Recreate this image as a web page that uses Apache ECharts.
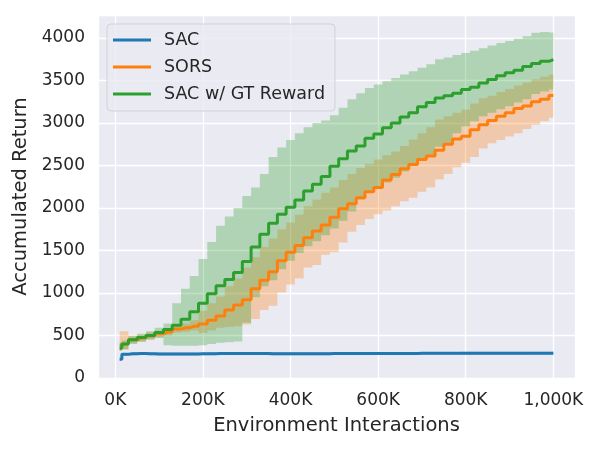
<!DOCTYPE html>
<html>
<head>
<meta charset="utf-8">
<script src="https://cdn.jsdelivr.net/npm/echarts@6/dist/echarts.min.js"></script>
<style>
html,body{margin:0;padding:0;background:#fff;}
#chart{width:600px;height:450px;}
</style>
</head>
<body>
<div id="chart"></div>
<script>
// Environment interactions (thousands)
const xK = [10,20,40,60,80,100,120,140,160,180,200,220,240,260,280,300,320,340,360,380,400,420,440,460,480,500,520,540,560,580,600,620,640,660,680,700,720,740,760,780,800,820,840,860,880,900,920,940,960,980,1000];

const sacMean = [222,278,285,288,284,283,283,282,282,283,284,285,287,288,289,289,288,287,286,286,285,285,286,286,286,287,287,287,288,288,288,288,289,289,289,290,290,290,290,290,291,291,291,291,291,291,291,292,292,292,292];
const sacLow  = [205,262,268,271,267,266,266,265,265,266,267,268,270,271,272,272,271,270,269,269,268,268,269,269,269,270,270,270,271,271,271,271,272,272,272,273,273,273,273,273,274,274,274,274,274,274,274,275,275,275,275];
const sacHigh = [240,295,302,305,301,300,300,299,299,300,301,302,304,305,306,306,305,304,303,303,302,302,303,303,303,304,304,304,305,305,305,305,306,306,306,307,307,307,307,307,308,308,308,308,308,308,308,309,309,309,309];

const sorsMean = [380,400,450,470,495,520,540,575,590,610,634,680,730,800,860,920,1050,1150,1250,1380,1480,1560,1650,1730,1800,1890,1990,2050,2120,2190,2240,2330,2395,2460,2512,2570,2610,2680,2750,2810,2845,2920,2980,3030,3080,3120,3170,3200,3250,3280,3322];
const sorsLow  = [320,330,410,430,455,480,500,535,545,560,530,560,590,600,610,630,693,800,850,1006,1100,1170,1300,1330,1450,1480,1593,1720,1800,1870,1925,1970,2020,2080,2121,2190,2240,2336,2400,2480,2532,2600,2700,2760,2800,2840,2880,2930,2980,3020,3061];
const sorsHigh = [550,550,500,510,535,560,580,615,640,680,790,880,960,1080,1170,1300,1420,1540,1640,1750,1830,1920,2020,2100,2180,2240,2330,2400,2470,2520,2571,2620,2665,2730,2806,2880,2950,3040,3080,3120,3158,3230,3290,3320,3365,3400,3440,3475,3515,3545,3569];

const gtMean = [350,400,450,475,500,535,570,620,690,780,880,990,1085,1160,1240,1370,1540,1690,1820,1925,2010,2095,2200,2280,2370,2490,2580,2670,2730,2820,2870,2945,3000,3070,3120,3190,3240,3295,3320,3350,3393,3420,3470,3510,3555,3590,3620,3665,3700,3725,3745];
const gtLow  = [320,340,400,425,450,470,385,380,380,380,385,400,415,420,430,650,950,1080,1150,1280,1380,1470,1550,1610,1680,1760,1850,1960,2100,2180,2239,2300,2356,2430,2493,2560,2620,2720,2760,2880,2960,3020,3080,3119,3160,3197,3240,3280,3340,3370,3393];
const gtHigh = [420,440,490,520,550,590,640,880,1050,1200,1400,1600,1790,1900,2000,2140,2240,2400,2600,2710,2800,2880,2950,3000,3030,3090,3180,3280,3350,3410,3452,3490,3530,3570,3608,3650,3690,3750,3770,3800,3823,3850,3880,3910,3940,3965,3990,4020,4060,4070,4065];

const seriesNames = ['SAC', 'SORS', 'SAC w/ GT Reward'];
const seriesColors = ['#1f77b4', '#ff7f0e', '#2ca02c'];
const xTicksK = [0, 200, 400, 600, 800, 1000];

const groups = [
  {name: seriesNames[0], color: seriesColors[0], mean: sacMean, low: sacLow, high: sacHigh},
  {name: seriesNames[1], color: seriesColors[1], mean: sorsMean, low: sorsLow, high: sorsHigh},
  {name: seriesNames[2], color: seriesColors[2], mean: gtMean, low: gtLow, high: gtHigh}
];

const FONT = 'DejaVu Sans';
const TXT = '#262626';

// step-middle outline in pixel space, built through the axis scale (api.coord)
function stepPath(api, xs, ys) {
  const pts = xs.map((x, j) => api.coord([x, ys[j]]));
  const out = [];
  for (let j = 0; j < pts.length; j++) {
    const left = j === 0 ? pts[0][0] : (pts[j - 1][0] + pts[j][0]) / 2;
    const right = j === pts.length - 1 ? pts[j][0] : (pts[j][0] + pts[j + 1][0]) / 2;
    out.push([left, pts[j][1]]);
    out.push([right, pts[j][1]]);
  }
  return out;
}

const series = [];
groups.forEach((g) => {
  series.push({
    type: 'custom', name: g.name + ' band', silent: true, z: 1,
    coordinateSystem: 'cartesian2d',
    data: [[xK[0], g.low[0]]],
    encode: {x: 0, y: 1},
    renderItem: function (params, api) {
      const upper = stepPath(api, xK, g.high);
      const lower = stepPath(api, xK, g.low).reverse();
      return {
        type: 'polygon',
        shape: {points: upper.concat(lower)},
        style: {fill: g.color, opacity: 0.3}
      };
    }
  });
});
groups.forEach((g) => {
  series.push({
    type: 'line', name: g.name, step: 'middle',
    data: xK.map((x, j) => [x, g.mean[j]]),
    symbol: 'none', color: g.color,
    lineStyle: {color: g.color, width: 3}, z: 3
  });
});

const chart = echarts.init(document.getElementById('chart'), null, {renderer: 'canvas'});
chart.setOption({
  animation: false,
  backgroundColor: '#ffffff',
  textStyle: {fontFamily: FONT},
  grid: {left: 98, right: 25, top: 15, bottom: 72, show: true, backgroundColor: '#EAEAF2', borderWidth: 0},
  legend: {
    data: seriesNames, orient: 'vertical', left: 107, top: 24,
    icon: 'rect', itemWidth: 38, itemHeight: 3, itemGap: 7,
    padding: [6, 10, 7, 6],
    backgroundColor: 'rgba(234,234,242,0.8)', borderColor: 'rgba(204,204,204,0.8)', borderWidth: 1, borderRadius: 4,
    textStyle: {fontFamily: FONT, fontSize: 17.5, color: TXT, lineHeight: 20, padding: [0, 0, 0, 8]}
  },
  xAxis: {
    type: 'value', min: -39.5, max: 1049.5, minInterval: 200, maxInterval: 200,
    name: 'Environment Interactions', nameLocation: 'middle', nameGap: 38,
    nameTextStyle: {fontFamily: FONT, fontSize: 19.5, color: TXT},
    axisLine: {show: false}, axisTick: {show: false},
    axisLabel: {
      fontFamily: FONT, fontSize: 17, color: TXT, margin: 14, showMinLabel: false, showMaxLabel: false,
      formatter: v => xTicksK.includes(v) ? v.toLocaleString('en-US') + 'K' : ''
    },
    splitLine: {show: true, lineStyle: {color: '#ffffff', width: 1.3}}
  },
  yAxis: {
    type: 'value', min: 0, max: 4270, interval: 500,
    name: 'Accumulated Return', nameLocation: 'middle', nameGap: 54,
    nameTextStyle: {fontFamily: FONT, fontSize: 19.5, color: TXT},
    axisLine: {show: false}, axisTick: {show: false},
    axisLabel: {fontFamily: FONT, fontSize: 17, color: TXT, margin: 13, showMaxLabel: false,
      padding: [4, 0, 0, 0], formatter: v => String(v)},
    splitLine: {show: true, lineStyle: {color: '#ffffff', width: 1.3}}
  },
  series: series
});
</script>
</body>
</html>
